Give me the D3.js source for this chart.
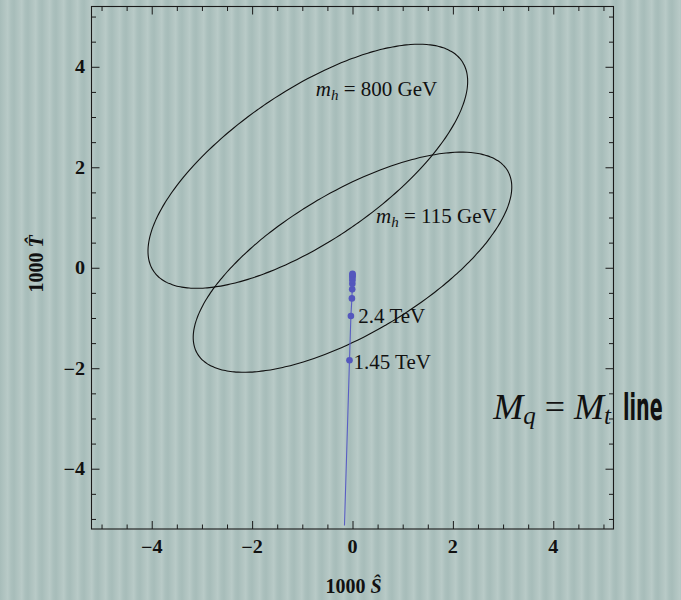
<!DOCTYPE html>
<html><head><meta charset="utf-8">
<script src="https://cdn.jsdelivr.net/npm/d3@7/dist/d3.min.js"></script>
<style>html,body{margin:0;padding:0;background:#afc3c0;overflow:hidden} svg{display:block}</style>
</head><body>
<svg id="chart" width="681" height="600"></svg>
<script>
// ---------- data ----------
const majorTicks = [-4, -2, 0, 2, 4];
const minorTicks = [-5, -4.5, -3.5, -3, -2.5, -1.5, -1, -0.5, 0.5, 1, 1.5, 2.5, 3, 3.5, 4.5, 5];
const tickLabels = ["\u22124", "\u22122", "0", "2", "4"];

// confidence ellipses (Higgs mass, centre, S-variance, T-variance, S-T covariance)
const ellipseMass = ["800", "115"];
const ellipseCenterS = [-0.89, 0.00];
const ellipseCenterT = [2.02, 0.11];
const ellipseVarS = [10.14, 10.07];
const ellipseVarT = [5.90, 4.80];
const ellipseCovST = [5.38, 4.75];
const ellipseLabelS = [-0.73, 0.47];
const ellipseLabelT = [3.42, 0.89];

// M_q = M_t line
const lineS = [-0.16, -0.06, -0.032, -0.012, -0.006, -0.003, -0.002, -0.001, 0, 0, 0];
const lineT = [-5.13, -1.84, -0.96, -0.61, -0.43, -0.32, -0.25, -0.20, -0.165, -0.14, -0.12];
const pointS = [-0.06, -0.032, -0.012, -0.006, -0.003, -0.002, -0.001, 0, 0, 0];
const pointT = [-1.84, -0.96, -0.61, -0.43, -0.32, -0.25, -0.20, -0.165, -0.14, -0.12];
const pointLabels = ["1.45 TeV", "2.4 TeV"];
const pointLabelS = [0.02, 0.115];
const pointLabelT = [-2.02, -1.10];

// ---------- drawing ----------
const svg = d3.select("#chart");
const W = 681, H = 600;
const serif = "'Liberation Serif','Times New Roman',Times,serif";

// striped background
const defs = svg.append("defs");
const grad = defs.append("linearGradient").attr("id", "stripeGrad")
  .attr("x1", "0").attr("x2", "1").attr("y1", "0").attr("y2", "0");
[["0", "#a7bdba"], ["0.35", "#b2c5c2"], ["0.55", "#b8cac7"], ["0.8", "#abc0bd"], ["1", "#a7bdba"]]
  .forEach(([o, c]) => grad.append("stop").attr("offset", o).attr("stop-color", c));
defs.append("pattern").attr("id", "stripes").attr("patternUnits", "userSpaceOnUse")
  .attr("width", 14).attr("height", 600)
  .append("rect").attr("width", 14).attr("height", 600).attr("fill", "url(#stripeGrad)");
svg.append("rect").attr("width", W).attr("height", H).attr("fill", "url(#stripes)");

const x = d3.scaleLinear().domain([-5.2, 5.2]).range([91.5, 613.5]);
const y = d3.scaleLinear().domain([-5.2, 5.2]).range([529, 6.5]);
const [x0, x1] = x.range(), [y0, y1] = [y.range()[1], y.range()[0]];

// ellipses
ellipseMass.forEach((m, i) => {
  const l11 = Math.sqrt(ellipseVarS[i]);
  const l21 = ellipseCovST[i] / l11;
  const l22 = Math.sqrt(ellipseVarT[i] - l21 * l21);
  const pts = d3.range(0, 360, 2).map(a => {
    const t = a * Math.PI / 180;
    return [ellipseCenterS[i] + l11 * Math.cos(t), ellipseCenterT[i] + l21 * Math.cos(t) + l22 * Math.sin(t)];
  });
  svg.append("path")
    .attr("d", d3.line().x(d => x(d[0])).y(d => y(d[1])).curve(d3.curveCardinalClosed)(pts))
    .attr("fill", "none").attr("stroke", "#111").attr("stroke-width", 1.1);
  const t = svg.append("text").attr("x", x(ellipseLabelS[i])).attr("y", y(ellipseLabelT[i]))
    .attr("font-family", serif).attr("font-size", 21).attr("fill", "#111");
  t.append("tspan").attr("font-style", "italic").text("m");
  t.append("tspan").attr("font-style", "italic").attr("font-size", 15).attr("dy", 4).text("h");
  t.append("tspan").attr("dy", -4).text(" = " + m + " GeV");
});

// line and points
const blue = "#5a5ec4";
svg.append("path")
  .attr("d", d3.line().x((d, i) => x(lineS[i])).y((d, i) => y(lineT[i]))(lineS))
  .attr("fill", "none").attr("stroke", blue).attr("stroke-width", 1.1);
svg.selectAll("circle.pt").data(pointS).join("circle").attr("class", "pt")
  .attr("cx", (d, i) => x(pointS[i])).attr("cy", (d, i) => y(pointT[i])).attr("r", 3.3)
  .attr("fill", "#5457bd");
pointLabels.forEach((lab, i) => {
  svg.append("text").attr("x", x(pointLabelS[i])).attr("y", y(pointLabelT[i]))
    .attr("font-family", serif).attr("font-size", 21).attr("fill", "#111").text(lab);
});

// ticks on all four sides + frame
function addAxis(gen, tx, ty, ticks, size) {
  const g = svg.append("g").attr("transform", `translate(${tx},${ty})`)
    .call(gen.tickValues(ticks).tickSizeInner(size).tickSizeOuter(0).tickFormat(""));
  g.select(".domain").remove();
  g.selectAll("line").attr("stroke", "#1a1a1a").attr("stroke-width", 1);
}
[[majorTicks, -8], [minorTicks, -4.5]].forEach(([tk, s]) => {
  addAxis(d3.axisBottom(x), 0, y1, tk, s);
  addAxis(d3.axisTop(x), 0, y0, tk, s);
  addAxis(d3.axisLeft(y), x0, 0, tk, s);
  addAxis(d3.axisRight(y), x1, 0, tk, s);
});
svg.append("rect").attr("x", x0).attr("y", y0).attr("width", x1 - x0).attr("height", y1 - y0)
  .attr("fill", "none").attr("stroke", "#1a1a1a").attr("stroke-width", 1.1);

// tick labels
majorTicks.forEach((v, i) => {
  svg.append("text").attr("transform", `translate(${x(v)},${y1 + 23.5}) scale(1.12,1)`)
    .attr("text-anchor", "middle").attr("font-family", serif).attr("font-weight", "bold")
    .attr("font-size", 18).attr("fill", "#111").text(tickLabels[i]);
  svg.append("text").attr("transform", `translate(${x0 - 6.5},${y(v) + 6.5}) scale(1.12,1)`)
    .attr("text-anchor", "end").attr("font-family", serif).attr("font-weight", "bold")
    .attr("font-size", 18).attr("fill", "#111").text(tickLabels[i]);
});

// axis titles
const xt = svg.append("text").attr("x", (x0 + x1) / 2 + 1).attr("y", 593)
  .attr("text-anchor", "middle").attr("font-family", serif).attr("font-weight", "bold")
  .attr("font-size", 20).attr("fill", "#111");
xt.append("tspan").text("1000 ");
xt.append("tspan").attr("font-style", "italic").text("\u015C");
const yt = svg.append("text").attr("transform", `translate(43,264) rotate(-90)`)
  .attr("text-anchor", "middle").attr("font-family", serif).attr("font-weight", "bold")
  .attr("font-size", 20).attr("fill", "#111");
yt.append("tspan").text("1000 ");
yt.append("tspan").attr("font-style", "italic").text("T\u0302");

// overlay title
const ov = svg.append("text").attr("x", x(2.805)).attr("y", y(-3.017))
  .attr("font-family", serif).attr("font-size", 36).attr("fill", "#111");
ov.append("tspan").attr("font-style", "italic").text("M");
ov.append("tspan").attr("font-style", "italic").attr("font-size", 25).attr("dy", 5).text("q");
ov.append("tspan").attr("dy", -5).text(" = ");
ov.append("tspan").attr("font-style", "italic").text("M");
ov.append("tspan").attr("font-style", "italic").attr("font-size", 25).attr("dy", 5).text("t");
svg.append("text").attr("transform", "translate(623,419.5) scale(0.56,1)")
  .attr("font-family", "'Liberation Sans Narrow','DejaVu Sans Condensed',sans-serif")
  .attr("font-weight", "bold").attr("font-size", 38).attr("fill", "#111").text("line");
</script>
</body></html>
